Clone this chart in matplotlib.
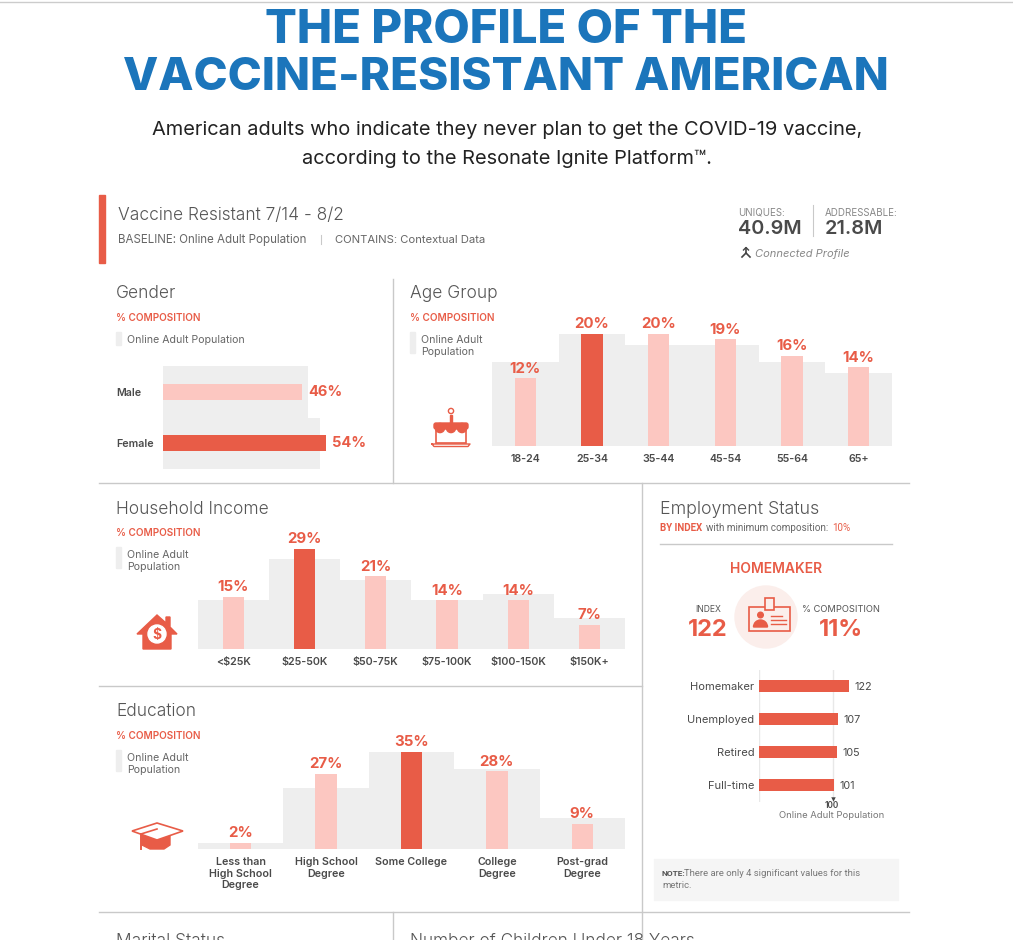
import matplotlib
matplotlib.use("Agg")
import matplotlib.pyplot as plt
from matplotlib.patches import Rectangle, Circle, Polygon, Wedge, FancyBboxPatch

W, H = 1013, 940
RED = "#e85c47"
PINK = "#fcc7c1"
GREY = "#eeeeee"
BLUE = "#1b75bb"
DARK = "#4a4a4a"
LINE = "#c9c9c9"

HEAD = "Inter"
BODY = "Inter"
LIGHT = "Inter"

gender_labels = ["Male", "Female"]
gender_base = [48, 52]
gender_vals = [46, 54]

age_labels = ["18-24", "25-34", "35-44", "45-54", "55-64", "65+"]
age_base = [15, 20, 18, 18, 15, 13]
age_vals = [12, 20, 20, 19, 16, 14]

income_labels = ["<$25K", "$25-50K", "$50-75K", "$75-100K", "$100-150K", "$150K+"]
income_base = [14, 26, 20, 14, 16, 9]
income_vals = [15, 29, 21, 14, 14, 7]

edu_labels = ["Less than\nHigh School\nDegree", "High School\nDegree", "Some College",
              "College\nDegree", "Post-grad\nDegree"]
edu_base = [2, 22, 35, 29, 11]
edu_vals = [2, 27, 35, 28, 9]

emp_labels = ["Homemaker", "Unemployed", "Retired", "Full-time"]
emp_vals = [122, 107, 105, 101]

fig = plt.figure(figsize=(W / 100, H / 100), dpi=100, facecolor="white")

# overlay in pixel coordinates for the text and furniture
bg = fig.add_axes([0, 0, 1, 1], zorder=0)
bg.set_xlim(0, W)
bg.set_ylim(H, 0)
bg.axis("off")


def axes_px(x0, y0, x1, y1):
    ax = fig.add_axes([x0 / W, 1 - y1 / H, (x1 - x0) / W, (y1 - y0) / H], zorder=2)
    ax.patch.set_alpha(0)
    for s in ax.spines.values():
        s.set_visible(False)
    ax.tick_params(length=0)
    return ax


def txt(x, y, s, size=8, color=DARK, weight="normal", ha="left", family=BODY, **kw):
    bg.text(x, y, s, fontsize=size, color=color, fontweight=weight, ha=ha, va="center",
            family=family, **kw)


def section(x, y, title, legend_lines):
    txt(x, y + 1, title, 12.5, "#555555", 300, family=LIGHT)
    txt(x, y + 25, "% COMPOSITION", 7.2, RED, "semibold")
    bg.add_patch(Rectangle((x, y + 39), 5, 13 if len(legend_lines) == 1 else 21, color=GREY))
    txt(x + 11, y + 47 if len(legend_lines) == 1 else y + 53, "\n".join(legend_lines), 7.6, "#666666",
        linespacing=1.2)


def columns(box, labels, base, vals, top, bar_w, size=10.8):
    ax = axes_px(*box)
    xs = list(range(len(labels)))
    ax.bar(xs, base, width=1.0, color=GREY, zorder=1)
    hi = vals.index(max(vals))
    colors = [RED if i == hi else PINK for i in xs]
    ax.bar(xs, vals, width=bar_w, color=colors, zorder=2)
    for x, v in zip(xs, vals):
        ax.annotate(f"{v}%", (x, v), xytext=(0, 2), textcoords="offset points", ha="center",
                    va="bottom", fontsize=size, color=RED, fontweight="bold", family=HEAD,
                    annotation_clip=False)
    ax.set_xlim(-0.5, len(labels) - 0.5)
    ax.set_ylim(0, top)
    ax.set_yticks([])
    ax.set_xticks(xs, labels, fontsize=7.7, color=DARK, fontweight="semibold", family=BODY,
                  linespacing=1.2)
    ax.tick_params(axis="x", pad=6)
    return ax


# page furniture
bg.plot([0, W], [2, 2], color="#cccccc", lw=1)
for xs, ys in [([99, 909], [483, 483]), ([99, 642], [686, 686]), ([99, 909], [912, 912]),
               ([392.5, 392.5], [279, 483]), ([642, 642], [483, 940]), ([392.5, 392.5], [912, 940])]:
    bg.plot(xs, ys, color=LINE, lw=1)

# headline
txt(506, 31, "THE PROFILE OF THE", 34, BLUE, 800, ha="center", family=HEAD)
txt(506, 78, "VACCINE-RESISTANT AMERICAN", 33, BLUE, 800, ha="center", family=HEAD)
txt(507, 130, "American adults who indicate they never plan to get the COVID-19 vaccine,", 14.4, "#222222", ha="center", family=BODY)
txt(507, 159, "according to the Resonate Ignite Platform\u2122.", 14.4, "#222222", ha="center", family=BODY)

# audience header
bg.add_patch(Rectangle((99, 195), 6, 68, color=RED))
txt(118, 216, "Vaccine Resistant 7/14 - 8/2", 12.5, "#555555", 300, family=LIGHT)
txt(118, 240, "BASELINE: Online Adult Population", 8.3, "#666666")
bg.plot([321, 321], [235, 244], color=LINE, lw=0.8)
txt(335, 240, "CONTAINS: Contextual Data", 8.1, "#666666")
txt(738, 213, "UNIQUES:", 7, "#888888")
txt(825, 213, "ADDRESSABLE:", 7, "#888888")
bg.plot([812.5, 812.5], [205, 236], color=LINE, lw=0.8)
txt(738, 229, "40.9M", 14.3, DARK, "semibold")
txt(825, 229, "21.8M", 14.3, DARK, "semibold")
txt(755, 254, "Connected Profile", 8, "#888888", style="italic")
bg.plot([746, 746, 742], [248, 253, 257], color="#444444", lw=1.2)
bg.plot([746, 750], [253, 257], color="#444444", lw=1.2)
bg.plot([743.5, 746, 748.5], [250, 247.5, 250], color="#444444", lw=1)

# gender
section(116, 293, "Gender", ["Online Adult Population"])
ax = axes_px(163.3, 366, 341, 469)
ys = [0, 1]
ax.barh(ys, gender_base, height=1.0, color=GREY, zorder=1)
ax.barh(ys, gender_vals, height=0.32, color=[PINK, RED], zorder=2)
for y, v in zip(ys, gender_vals):
    ax.annotate(f"{v}%", (v, y), xytext=(4.5, 0), textcoords="offset points", va="center",
                fontsize=10.5, color=RED, fontweight="bold", family=HEAD, annotation_clip=False)
ax.set_xlim(0, 59)
ax.set_ylim(1.5, -0.5)
ax.set_xticks([])
ax.set_yticks(ys, gender_labels, fontsize=7.7, color=DARK, fontweight="semibold", family=BODY)
for t in ax.get_yticklabels():
    t.set_ha("left")
ax.tick_params(axis="y", pad=34)

# age
section(410, 293, "Age Group", ["Online Adult", "Population"])
columns((492, 333.7, 892, 445.7), age_labels, age_base, age_vals, 20, 0.32)

# household income
section(116, 508, "Household Income", ["Online Adult", "Population"])
columns((197.8, 548.7, 625, 648.7), income_labels, income_base, income_vals, 29, 0.30)

# education
section(116, 711, "Education", ["Online Adult", "Population"])
columns((197.8, 752, 625, 848.7), edu_labels, edu_base, edu_vals, 35, 0.25)

# employment
txt(660, 509, "Employment Status", 12.8, "#555555", 300, family=LIGHT)
bg.text(660, 528, "BY INDEX", fontsize=7, color=RED, fontweight="bold", va="center", family="Roboto")
bg.text(706, 528, "with minimum composition:", fontsize=7.1, color="#666666", va="center", family="Roboto")
bg.text(832, 528, "10%", fontsize=7.1, color=RED, va="center", family="Roboto")
bg.plot([660, 892], [544, 544], color=LINE, lw=1)
txt(776, 569, "HOMEMAKER", 10, RED, "semibold", ha="center")
txt(708, 609, "INDEX", 6.2, "#555555", ha="center")
txt(708, 630, "122", 17, RED, "bold", ha="center")
txt(841, 609, "% COMPOSITION", 6.7, "#555555", ha="center")
txt(841, 630, "11%", 17, RED, "bold", ha="center")

ax = axes_px(759, 669.5, 855.2, 801.5)
ys = list(range(len(emp_labels)))
ax.axvline(0, color="#e8e8e8", lw=1, zorder=1)
ax.axvline(100, color="#e8e8e8", lw=1, zorder=1)
ax.barh(ys, emp_vals, height=0.355, color=RED, zorder=2)
for y, v in zip(ys, emp_vals):
    ax.annotate(str(v), (v, y), xytext=(4, -0.5), textcoords="offset points", va="center",
                fontsize=7.8, color=DARK, family=BODY, annotation_clip=False)
ax.plot([100], [3.42], marker="v", ms=3.2, color="#444444", mew=0, zorder=3, clip_on=False)
ax.set_xlim(0, 130)
ax.set_ylim(3.5, -0.5)
ax.set_xticks([])
ax.set_yticks(ys, emp_labels, fontsize=8, color=DARK, family=BODY)
ax.tick_params(axis="y", pad=3.5)
txt(832, 805.5, "100", 6, DARK, "semibold", ha="center")
txt(832, 816, "Online Adult Population", 6.8, "#777777", ha="center")

bg.add_patch(Rectangle((654, 859), 244, 41, color="#f5f5f5"))
bg.text(662, 873.5, "NOTE:", fontsize=6, color="#555555", fontweight="bold", va="center", family="Roboto")
bg.text(684, 873.5, "There are only 4 significant values for this", fontsize=6.8, color="#777777", va="center", family="Roboto")
bg.text(662, 885.5, "metric.", fontsize=6.8, color="#777777", va="center", family="Roboto")

# next row, cut off by the page edge
txt(116, 942, "Marital Status", 12.5, "#555555", 300, family=LIGHT)
txt(410, 942, "Number of Children Under 18 Years", 12.4, "#555555", 300, family=LIGHT)

# cake icon
bg.add_patch(Rectangle((436, 426), 30, 17, fill=False, ec=RED, lw=1.2))
bg.add_patch(FancyBboxPatch((434, 423), 34, 6, boxstyle="round,pad=0,rounding_size=2", color=RED))
for cx in (440, 451, 462):
    bg.add_patch(Circle((cx, 428), 4.6, color=RED, zorder=3))
bg.add_patch(Rectangle((449.8, 415), 2.6, 9, color=RED))
bg.add_patch(Circle((451, 411), 2.6, fill=False, ec=RED, lw=1))
bg.plot([432, 470, 468, 434, 432], [444, 444, 446.5, 446.5, 444], color=RED, lw=1)

# house icon
bg.add_patch(Polygon([(137, 634), (157, 615), (166, 623), (166, 617), (170, 617), (170, 627), (177, 634),
                      (171, 634), (171, 649), (143, 649), (143, 634)], color=RED))
bg.add_patch(Circle((157, 634), 9, color="white", zorder=3))
bg.text(157, 634.5, "$", fontsize=10, color=RED, fontweight="bold", ha="center", va="center", family=HEAD, zorder=4)

# graduation cap icon
bg.add_patch(Polygon([(142, 835), (157, 840), (170, 835), (170, 845), (164, 849), (150, 849), (142, 845)], color=RED))
bg.add_patch(Polygon([(132, 831), (157, 823), (183, 831), (157, 840)], fc="white", ec=RED, lw=1.2, zorder=3))
bg.plot([141, 157], [834, 829], color=RED, lw=1.2, zorder=4)
bg.plot([141, 141], [834, 849], color=RED, lw=1.4, zorder=4)

# employment icon
bg.add_patch(Circle((766, 617), 31, color="#fbeeeb"))
bg.add_patch(Rectangle((749, 607), 41, 24, fill=False, ec=RED, lw=1.2, zorder=3))
bg.add_patch(Rectangle((765, 598), 9, 12, fc="#fbeeeb", ec=RED, lw=1.2, zorder=4))
bg.add_patch(Circle((760.5, 615), 2.8, color=RED, zorder=4))
bg.add_patch(Wedge((760.5, 627), 7, 180, 360, color=RED, zorder=4))
for ly, x1 in ((616, 782), (620, 786), (624, 786)):
    bg.plot([771, x1], [ly, ly], color=RED, lw=1, zorder=4)

fig.savefig("out.png", dpi=100)
